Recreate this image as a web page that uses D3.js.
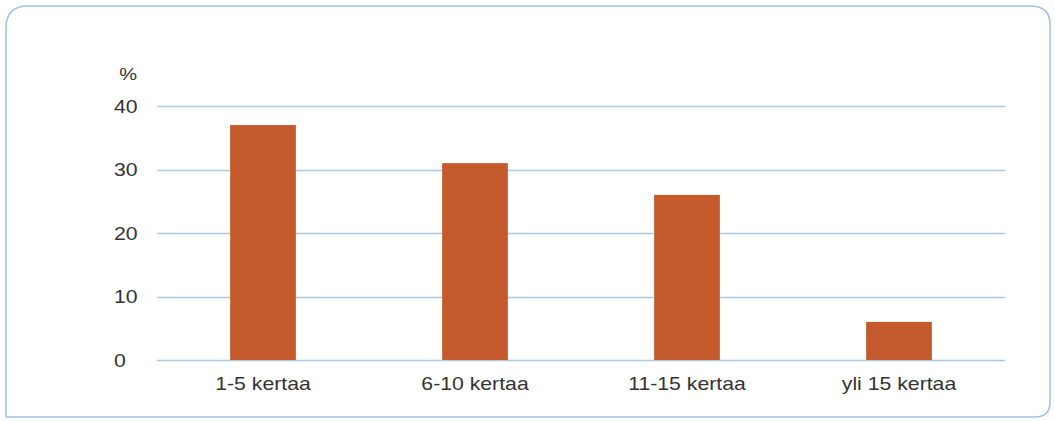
<!DOCTYPE html>
<html>
<head>
<meta charset="utf-8">
<script src="https://cdn.jsdelivr.net/npm/d3@7"></script>
<style>
  html, body { margin: 0; padding: 0; background: #ffffff; }
  svg { display: block; }
  text { font-family: "Liberation Sans", Arial, sans-serif; fill: #333333; }
</style>
</head>
<body>
<svg id="chart" width="1055" height="421"></svg>
<script>
// Share of respondents (%) by number of times
const categories = ["1-5 kertaa", "6-10 kertaa", "11-15 kertaa", "yli 15 kertaa"];
const values = [37, 31, 26, 6];
const yTicks = [0, 10, 20, 30, 40];
const unitLabel = "%";

const svg = d3.select("#chart");
const W = 1055, H = 421;

// Rounded outer frame
svg.append("path")
  .attr("d", `M6,28 Q6,6 28,6 L1030,6 Q1050,6 1050,24 L1050,402 Q1050,417 1035,417 L6,417 Z`)
  .attr("fill", "#ffffff")
  .attr("stroke", "#9cc3e2")
  .attr("stroke-width", 1.5);

const plot = { left: 157, right: 1005, top: 106, bottom: 360 };

const x = d3.scaleBand()
  .domain(categories)
  .range([plot.left, plot.right])
  .paddingInner(0.69)
  .paddingOuter(0.345);

const y = d3.scaleLinear()
  .domain([0, 40])
  .range([plot.bottom, plot.top]);

const sx = 1.18; // horizontal stretch of glyphs

// Gridlines
svg.append("g")
  .selectAll("line")
  .data(yTicks)
  .join("line")
  .attr("x1", plot.left)
  .attr("x2", plot.right)
  .attr("y1", d => Math.round(y(d)) + 0.5)
  .attr("y2", d => Math.round(y(d)) + 0.5)
  .attr("stroke", "#a9c9e4")
  .attr("stroke-width", 1.3);

// Y tick labels
svg.append("g")
  .selectAll("text")
  .data(yTicks)
  .join("text")
  .attr("transform", d => `translate(114,${y(d) + 6.5}) scale(${sx},1)`)
  .attr("font-size", 18)
  .attr("text-anchor", "start")
  .text(d => d);

// Unit label
svg.append("text")
  .attr("transform", `translate(137,80) scale(${sx},1)`)
  .attr("font-size", 17)
  .attr("text-anchor", "end")
  .text(unitLabel);

// Bars
svg.append("g")
  .selectAll("rect")
  .data(values)
  .join("rect")
  .attr("x", (d, i) => x(categories[i]))
  .attr("width", x.bandwidth())
  .attr("y", d => y(d))
  .attr("height", d => y(0) - y(d))
  .attr("fill", "#c55a2d");

// Category labels
svg.append("g")
  .selectAll("text")
  .data(categories)
  .join("text")
  .attr("transform", d => `translate(${x(d) + x.bandwidth() / 2},390) scale(${sx},1)`)
  .attr("font-size", 18)
  .attr("text-anchor", "middle")
  .text(d => d);
</script>
</body>
</html>
